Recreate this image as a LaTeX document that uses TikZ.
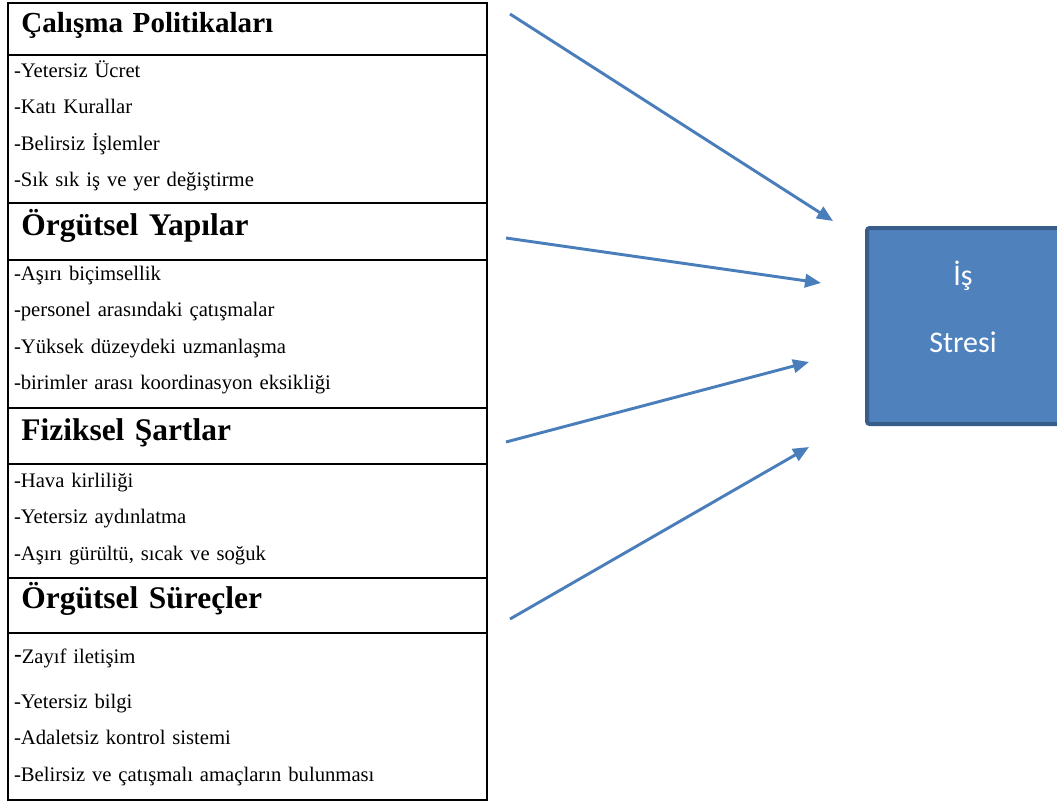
\documentclass[tikz,border=0pt]{standalone}
\usepackage{fontspec}
\setmainfont{Liberation Serif}[WordSpace=0.85]
\newfontfamily\boxfont{Carlito}
\usetikzlibrary{positioning, arrows.meta}

\definecolor{arrowblue}{HTML}{4A7EBB}
\definecolor{stressfill}{HTML}{4F81BD}
\definecolor{stressdraw}{HTML}{385D8A}

\begin{document}
\begin{tikzpicture}[
    x=0.75pt, y=0.75pt,
    headbox/.style={rectangle, draw=black, line width=1.5pt, outer sep=0pt, inner ysep=0pt, inner xsep=10pt, text width=339.25pt, align=left, font=\fontsize{23.6}{28}\selectfont\bfseries},
    itembox/.style={rectangle, draw=black, line width=1.5pt, outer sep=0pt, inner ysep=0pt, inner xsep=4.5pt, text width=350.25pt, align=left, font=\fontsize{15.5}{27.4}\selectfont},
    stressbox/.style={rectangle, rounded corners=2pt, draw=stressdraw, fill=stressfill, line width=3pt, minimum width=160pt, minimum height=147pt},
    stresstext/.style={text=white, font=\boxfont\fontsize{22.5}{26}\selectfont, inner sep=0pt},
    arrow/.style={-{Triangle[length=12pt, width=10pt]}, line width=2.2pt, draw=arrowblue}
]
    \useasboundingbox (0,0) rectangle (1057,-803);

    % left column: four groups of causes
    \node[headbox, anchor=north west, text height=21.75pt, text depth=17.25pt, font=\fontsize{21.8}{26}\selectfont\bfseries] (h1) at (8,-3) {Çalışma Politikaları};
    \node[itembox, below=0pt of h1, text height=16.5pt, text depth=94.5pt] (i1) {-Yetersiz Ücret\\-Katı Kurallar\\-Belirsiz İşlemler\\-Sık sık iş ve yer değiştirme};
    \node[headbox, below=0pt of i1, text height=24pt, text depth=18.75pt] (h2) {Örgütsel Yapılar};
    \node[itembox, below=0pt of h2, text height=15pt, text depth=96pt] (i2) {-Aşırı biçimsellik\\-personel arasındaki çatışmalar\\-Yüksek düzeydeki uzmanlaşma\\-birimler arası koordinasyon eksikliği};
    \node[headbox, below=0pt of i2, text height=24pt, text depth=18pt] (h3) {Fiziksel Şartlar};
    \node[itembox, below=0pt of h3, text height=17.25pt, text depth=68.25pt] (i3) {-Hava kirliliği\\-Yetersiz aydınlatma\\-Aşırı gürültü, sıcak ve soğuk};
    \node[headbox, below=0pt of i3, text height=22.5pt, text depth=18.75pt] (h4) {Örgütsel Süreçler};
    \node[itembox, below=0pt of h4, text height=22.5pt, text depth=102.75pt] (i4) {{\boxfont\fontsize{19}{20}\selectfont -}Zayıf iletişim\\[6.5pt]-Yetersiz bilgi\\-Adaletsiz kontrol sistemi\\-Belirsiz ve çatışmalı amaçların bulunması};

    % right: the result
    \node[stressbox, anchor=north west] (stress) at (865,-226) {};
    \node[stresstext, anchor=base] (islabel) at (963,-285) {İş};
    \node[stresstext, anchor=base] (streslabel) at (963,-352) {Stresi};

    % arrows
    \coordinate (a1s) at (510,-14);  \coordinate (a1e) at (833,-221);
    \coordinate (a2s) at (506,-238); \coordinate (a2e) at (821,-283);
    \coordinate (a3s) at (506,-442); \coordinate (a3e) at (809,-362);
    \coordinate (a4s) at (510,-619); \coordinate (a4e) at (809,-447);
    \draw[arrow] (a1s) -- (a1e);
    \draw[arrow] (a2s) -- (a2e);
    \draw[arrow] (a3s) -- (a3e);
    \draw[arrow] (a4s) -- (a4e);
\end{tikzpicture}
\end{document}
